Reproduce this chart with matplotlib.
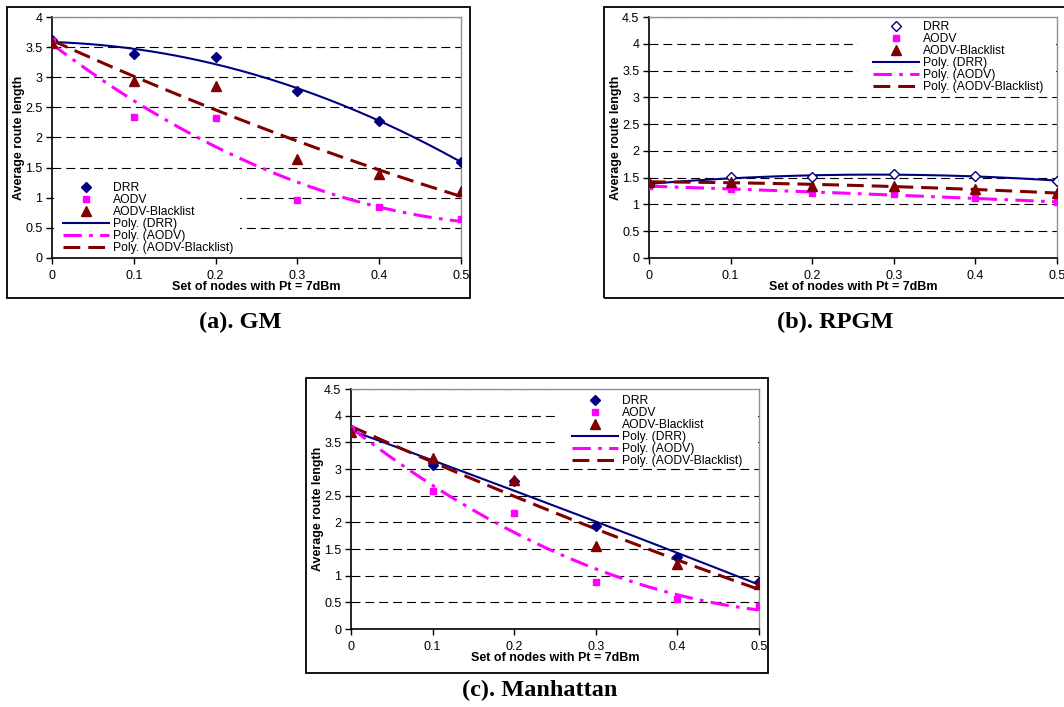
import numpy as np
import matplotlib
matplotlib.use("Agg")
import matplotlib.pyplot as plt
from matplotlib.patches import Rectangle

plt.rcParams['font.family'] = ['Liberation Sans', 'DejaVu Sans']

# ====== data ======
x_vals = [0, 0.1, 0.2, 0.3, 0.4, 0.5]

gm_drr = [3.61, 3.38, 3.33, 2.77, 2.27, 1.60]
gm_aodv = [3.60, 2.34, 2.32, 0.97, 0.84, 0.65]
gm_bl = [3.57, 2.94, 2.85, 1.64, 1.40, 1.11]

rpgm_drr = [1.38, 1.51, 1.51, 1.57, 1.53, 1.44]
rpgm_aodv = [1.35, 1.28, 1.22, 1.19, 1.12, 1.04]
rpgm_bl = [1.42, 1.42, 1.35, 1.35, 1.28, 1.21]

man_drr = [3.73, 3.07, 2.78, 1.94, 1.35, 0.88]
man_aodv = [3.75, 2.59, 2.17, 0.89, 0.56, 0.44]
man_bl = [3.69, 3.21, 2.80, 1.56, 1.22, 0.85]

series_names = ["DRR", "AODV", "AODV-Blacklist"]
x_label = "Set of nodes with Pt = 7dBm"
y_label = "Average route length"

NAVY = "#000080"
MAG = "#FF00FF"
DRED = "#800000"

W, H = 1064, 707
fig = plt.figure(figsize=(W / 100, H / 100), dpi=100)


def draw_panel(rect, drr, aodv, bl, ymax, drr_open, bg_rect, leg_anchor):
    ax = fig.add_axes(rect)
    ax.set_axisbelow(True)
    xs = np.array(x_vals)
    xx = np.linspace(0, 0.5, 200)

    mk_drr = dict(marker='D', ms=5, color=NAVY, ls='none', zorder=3)
    if drr_open:
        mk_drr.update(mfc='white', mec=NAVY, mew=1.0)
    h1, = ax.plot(xs, drr, label=series_names[0], **mk_drr)
    h2, = ax.plot(xs, aodv, marker='s', ms=5, color=MAG, ls='none', zorder=3,
                  label=series_names[1])
    h3, = ax.plot(xs, bl, marker='^', ms=6.5, color=DRED, ls='none', zorder=3,
                  label=series_names[2])

    # Excel style 2nd-order polynomial trend lines
    l1, = ax.plot(xx, np.polyval(np.polyfit(xs, drr, 2), xx), color=NAVY, lw=1.5,
                  zorder=2, label="Poly. (DRR)")
    l2, = ax.plot(xx, np.polyval(np.polyfit(xs, aodv, 2), xx), color=MAG, lw=2.2,
                  ls=(0, (6, 2.4, 1.2, 2.4)), zorder=2, label="Poly. (AODV)")
    l3, = ax.plot(xx, np.polyval(np.polyfit(xs, bl, 2), xx), color=DRED, lw=2.2,
                  ls=(0, (5.5, 2.6)), zorder=2, label="Poly. (AODV-Blacklist)")

    ax.set_xlim(0, 0.5)
    ax.set_ylim(0, ymax)
    ax.set_xticks(x_vals)
    ax.set_xticklabels(["%g" % v for v in x_vals])
    yt = np.arange(0, ymax + 0.01, 0.5)
    ax.set_yticks(yt)
    ax.set_yticklabels(["%g" % v for v in yt])
    ax.tick_params(direction='out', length=4, width=1, labelsize=9, pad=3,
                   colors='black')
    ax.tick_params(axis='x', pad=5)
    ax.yaxis.grid(True, color='black', lw=0.8, ls=(0, (8, 4.5)))
    ax.xaxis.grid(False)
    for s in ['left', 'bottom']:
        ax.spines[s].set_color('black')
        ax.spines[s].set_linewidth(1.2)
    for s in ['top', 'right']:
        ax.spines[s].set_color('#909090')
        ax.spines[s].set_linewidth(1.0)

    ax.set_xlabel(x_label, fontsize=9, fontweight='bold', labelpad=-1)
    ax.set_ylabel(y_label, fontsize=9, fontweight='bold', labelpad=0)

    ax.add_patch(Rectangle((bg_rect[0], bg_rect[1]), bg_rect[2] - bg_rect[0],
                           bg_rect[3] - bg_rect[1], transform=ax.transAxes,
                           facecolor='white', edgecolor='none', zorder=1))
    ax.legend(handles=[h1, h2, h3, l1, l2, l3], loc='upper left',
              bbox_to_anchor=leg_anchor, frameon=False, fontsize=8.7,
              borderpad=0, borderaxespad=0, handlelength=3.8,
              handletextpad=0.3, labelspacing=0.0)
    return ax


draw_panel([52 / W, 1 - 258 / H, 409 / W, 241 / H], gm_drr, gm_aodv, gm_bl, 4.0,
           False, (0.004, 0.004, 0.46, 0.332), (0.027, 0.315))
draw_panel([649 / W, 1 - 258 / H, 408 / W, 241 / H], rpgm_drr, rpgm_aodv, rpgm_bl, 4.5,
           True, (0.512, 0.72, 0.997, 0.995), (0.549, 0.983))
draw_panel([351 / W, 1 - 629 / H, 408 / W, 240 / H], man_drr, man_aodv, man_bl, 4.5,
           False, (0.507, 0.72, 0.997, 0.995), (0.542, 0.975))

# outer chart borders
for x0, y0, x1, y1 in [(7, 7, 470, 298), (604, 7, 1075, 298), (306, 378, 768, 673)]:
    fig.patches.append(Rectangle((x0 / W, 1 - y1 / H), (x1 - x0) / W, (y1 - y0) / H,
                                 transform=fig.transFigure, fill=False,
                                 edgecolor='black', lw=1.3))

cap = dict(fontsize=17.5, fontweight='bold', family=['Liberation Serif', 'DejaVu Serif'],
           ha='center', va='center')
fig.text(240 / W, 1 - 322 / H, "(a). GM", **cap)
fig.text(835 / W, 1 - 322 / H, "(b). RPGM", **cap)
fig.text(540 / W, 1 - 690 / H, "(c). Manhattan", **cap)

fig.savefig("out.png", dpi=100)
